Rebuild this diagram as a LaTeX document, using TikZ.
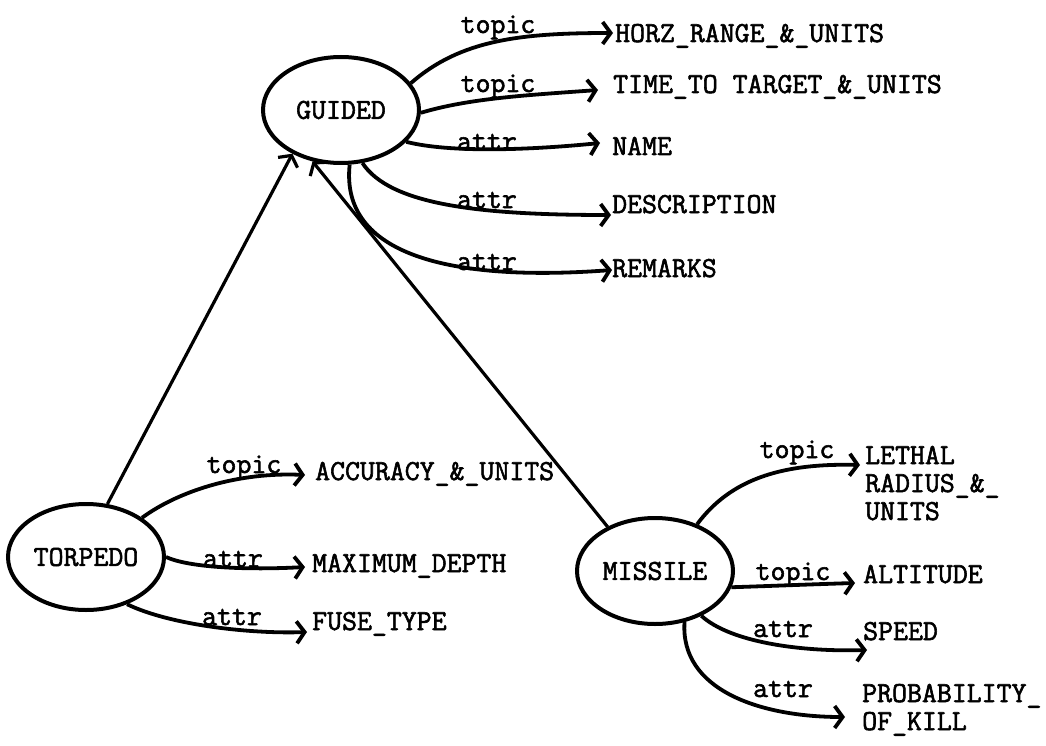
\documentclass[tikz,border=0pt]{standalone}
\usepackage{fontspec}
\newfontfamily\typewriter{Latin Modern Mono}[FakeBold=2]
\usetikzlibrary{shapes.geometric,arrows.meta}
\begin{document}
\begin{tikzpicture}[x=1pt,y=-1pt,
  every node/.style={font=\typewriter\fontsize{29}{28}\selectfont, inner sep=0pt},
  entity/.style={ellipse, draw, line width=4pt, minimum width=156pt, minimum height=106pt},
  item/.style={anchor=base west},
  rel/.style={anchor=base},
  link/.style={line width=3.8pt, -{Straight Barb[length=8pt,width=22pt]}},
  isa/.style={line width=3.2pt, -{Straight Barb[length=8pt,width=22pt]}}]
\useasboundingbox (0,0) rectangle (1046,746);

% entities
\node[entity] (guided)  at (341,110) {GUIDED};
\node[entity] (torpedo) at (86,557)  {TORPEDO};
\node[entity] (missile) at (655,571) {MISSILE};

% GUIDED items
\node[item] (horz) at (615,42)  {HORZ\_RANGE\_\&\_UNITS};
\node[item] (time) at (613,93)  {TIME\_TO TARGET\_\&\_UNITS};
\node[item] (name) at (612,155) {NAME};
\node[item] (desc) at (612,213) {DESCRIPTION};
\node[item] (rem)  at (612,277) {REMARKS};

% TORPEDO items
\node[item] (acc)  at (315,480) {ACCURACY\_\&\_UNITS};
\node[item] (depth) at (312,572) {MAXIMUM\_DEPTH};
\node[item] (fuse) at (312,630) {FUSE\_TYPE};

% MISSILE items
\node[item] (lethal) at (865,464) {\begin{tabular}[t]{@{}l@{}}LETHAL\\RADIUS\_\&\_\\UNITS\end{tabular}};
\node[item] (alt)   at (863,583) {ALTITUDE};
\node[item] (speed) at (863,640) {SPEED};
\node[item] (prob)  at (862,702) {\begin{tabular}[t]{@{}l@{}}PROBABILITY\_\\OF\_KILL\end{tabular}};

% relation labels
\node[rel] (l1) at (498,33)  {topic};
\node[rel] (l2) at (498,92)  {topic};
\node[rel] (l3) at (487,150) {attr};
\node[rel] (l4) at (487,208) {attr};
\node[rel] (l5) at (487,270) {attr};
\node[rel] (l6) at (244,473) {topic};
\node[rel] (l7) at (233,567) {attr};
\node[rel] (l8) at (232,625) {attr};
\node[rel] (l9) at (797,458) {topic};
\node[rel] (l10) at (793,580) {topic};
\node[rel] (l11) at (783,637) {attr};
\node[rel] (l12) at (783,697) {attr};

% subtype links
\draw[isa] (torpedo.68) -- (guided.222);
\draw[isa] (missile.137) -- (guided.241);

% GUIDED connectors
\draw[link] (guided.21) .. controls (460,40) and (520,33) .. ([shift={(-2,-9)}]horz.base west);
\draw[link] (guided.-2) .. controls (470,98) and (530,95) .. ([shift={(-15,-3)}]time.base west);
\draw[link] (guided.-26) .. controls (450,153) and (530,150) .. ([shift={(-12,-12)}]name.base west);
\draw[link] (guided.-68) .. controls (390,205) and (480,215) .. ([shift={(-1,2)}]desc.base west);
\draw[link] (guided.-81) .. controls (340,255) and (450,282) .. ([shift={(0,-7)}]rem.base west);

% TORPEDO connectors
\draw[link] (torpedo.35) .. controls (180,490) and (240,472) .. ([shift={(-10,-5)}]acc.base west);
\draw[link] (torpedo.0) .. controls (190,568) and (250,570) .. ([shift={(-7,-5)}]depth.base west);
\draw[link] (torpedo.-49) .. controls (170,625) and (250,634) .. ([shift={(-5,2)}]fuse.base west);

% MISSILE connectors
\draw[link] (missile.48) .. controls (730,480) and (780,463) .. ([shift={(-5,1)}]lethal.base west);
\draw[link] (missile.-12) .. controls (770,586) and (820,584) .. ([shift={(-8,0)}]alt.base west);
\draw[link] (missile.-44) .. controls (730,642) and (800,652) .. ([shift={(4,10)}]speed.base west);
\draw[link] (missile.-60) .. controls (680,690) and (760,717) .. ([shift={(-17,15)}]prob.base west);
\end{tikzpicture}
\end{document}
